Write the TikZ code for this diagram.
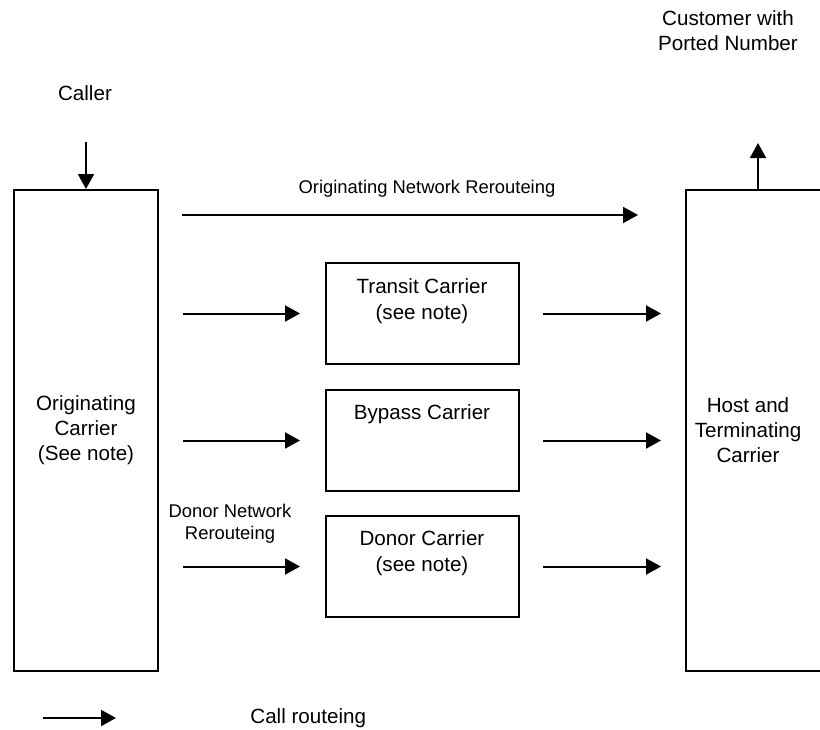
\documentclass[tikz,border=0pt]{standalone}
\usepackage{fontspec}
\setmainfont{Liberation Sans}
\usepackage{tikz}
\usetikzlibrary{arrows.meta}
\usetikzlibrary{calc}

\tikzset{
  carrier/.style={draw, line width=1pt, inner sep=0pt},
  route/.style={-{Triangle[length=7.5pt,width=8pt]}, line width=1pt},
  lbl/.style={font=\fontsize{10.3}{12.5}\selectfont, align=center, inner sep=0pt},
  boxlbl/.style={font=\fontsize{10.3}{13}\selectfont, align=center, inner sep=0pt},
  small/.style={font=\fontsize{9.2}{11}\selectfont, align=center, inner sep=0pt}
}

\begin{document}
\begin{tikzpicture}[x=0.5pt, y=-0.5pt]
        \useasboundingbox (0,0) rectangle (820,729);

        % Carriers
        \draw (86,430.5)  node(orig)    [carrier, lbl, minimum width=72pt, minimum height=240.5pt] {Originating\\Carrier\\(See note)};
        \draw (758,430.5) node(host)    [carrier, minimum width=72pt, minimum height=240.5pt] {};
        \draw (422.5,313.5) node(transit) [carrier, minimum width=96.5pt, minimum height=50.5pt] {};
        \draw (422.5,440.5) node(bypass)  [carrier, minimum width=96.5pt, minimum height=50.5pt] {};
        \draw (422.5,566.5) node(donor)   [carrier, minimum width=96.5pt, minimum height=50.5pt] {};

        % Texts
        \draw (748,430)   node(hostlbl)    [lbl] {Host and\\Terminating\\Carrier};
        \draw (422,301)   node(transitlbl) [boxlbl] {Transit Carrier\\(see note)};
        \draw (422,414)   node(bypasslbl)  [boxlbl] {Bypass Carrier};
        \draw (422,553.5) node(donorlbl)   [boxlbl] {Donor Carrier\\(see note)};
        \draw (85,93)     node(caller)     [lbl] {Caller};
        \draw (728,31)    node(customer)   [lbl] {Customer with\\Ported Number};
        \draw (427,189)   node(onrlbl)     [small] {Originating Network Rerouteing};
        \draw (230,524)   node(dnrlbl)     [small] {Donor Network\\Rerouteing};
        \draw (250,718)   node(keylbl)     [lbl, anchor=west] {Call routeing};

        % Free ends
        \coordinate (callin)   at (86,142);
        \coordinate (custout)  at (758,143);
        \coordinate (onrstart) at (182,215);
        \coordinate (onrend)   at (638,215);
        \coordinate (keystart) at (43,718);
        \coordinate (keyend)   at (116,718);

        % Edges
        \draw[route] (callin) -- (orig.north);
        \draw[route] (host.north) -- (custout);
        \draw[route] (onrstart) -- (onrend);
        \draw[route, shorten <=12pt, shorten >=12.5pt] (orig.east |- transit.west) -- (transit.west);
        \draw[route, shorten <=12pt, shorten >=12.5pt] (orig.east |- bypass.west) -- (bypass.west);
        \draw[route, shorten <=12pt, shorten >=12.5pt] (orig.east |- donor.west) -- (donor.west);
        \draw[route, shorten <=11.5pt, shorten >=12pt] (transit.east) -- (host.west |- transit.east);
        \draw[route, shorten <=11.5pt, shorten >=12pt] (bypass.east) -- (host.west |- bypass.east);
        \draw[route, shorten <=11.5pt, shorten >=12pt] (donor.east) -- (host.west |- donor.east);
        \draw[route] (keystart) -- (keyend);

      \end{tikzpicture}
\end{document}
